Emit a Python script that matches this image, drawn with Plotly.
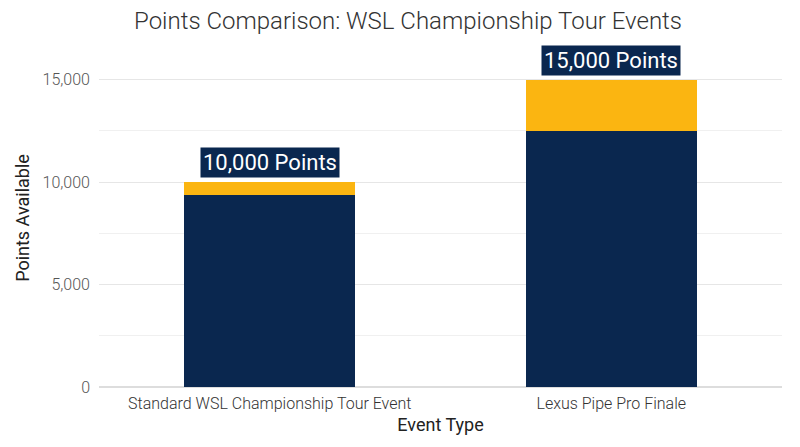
import plotly.graph_objects as go

categories = ["Standard WSL Championship Tour Event", "Lexus Pipe Pro Finale"]
base_points = [9370, 12500]
extra_points = [630, 2500]
totals = [10000, 15000]
label_texts = ["10,000 Points", "15,000 Points"]

navy = "#0a274f"
gold = "#fbb511"

fig = go.Figure()
fig.add_trace(go.Bar(x=categories, y=base_points, name="Base", marker_color=navy,
                     marker_line_width=0))
fig.add_trace(go.Bar(x=categories, y=extra_points, name="Additional", marker_color=gold,
                     marker_line_width=0))

for c, t, txt in zip(categories, totals, label_texts):
    fig.add_annotation(x=c, y=t, text=txt, showarrow=False, yanchor="bottom", yshift=4,
                       font=dict(family="Roboto", size=22, color="white"),
                       bgcolor=navy, borderpad=2)

fig.update_layout(
    barmode="stack",
    bargap=0.5,
    showlegend=False,
    width=800, height=447,
    margin=dict(l=91, r=26, t=41, b=68),
    paper_bgcolor="white", plot_bgcolor="white",
    title=dict(text="Points Comparison: WSL Championship Tour Events", x=0.5, xanchor="center",
               y=1 - 13 / 447, yanchor="middle",
               font=dict(family="Roboto", size=24, color="#333333", weight=300)),
    font=dict(family="Roboto", color="#333333"),
)
fig.update_xaxes(title=dict(text="Event Type", font=dict(size=18, color="#222222"), standoff=6),
                 tickfont=dict(size=16, color="#333333", weight=300), showgrid=False,
                 showline=False, ticks="", ticklabelstandoff=5)
fig.update_yaxes(title=dict(text="Points Available", font=dict(size=18, color="#222222"), standoff=8),
                 range=[0, 16500], dtick=5000, tickformat=",",
                 tickfont=dict(size=16, color="#555555", weight=300),
                 showgrid=True, gridcolor="#e6e6e6", gridwidth=1,
                 zeroline=True, zerolinecolor="#dddddd", zerolinewidth=1.5,
                 minor=dict(dtick=2500, showgrid=True, gridcolor="#f0f0f0", gridwidth=1),
                 ticks="", ticklabelstandoff=8)

fig.write_html("out.html")
